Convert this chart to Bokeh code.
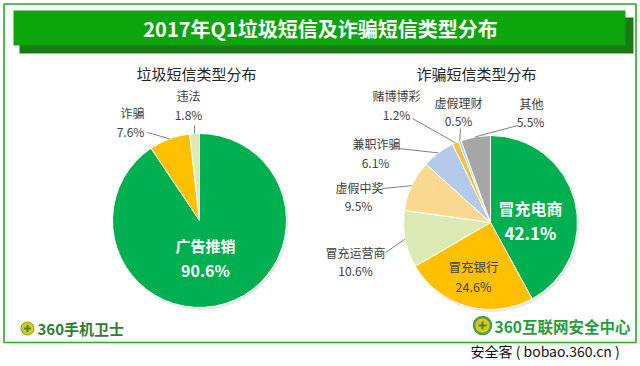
import math
from bokeh.plotting import figure
from bokeh.models import ColumnDataSource, Range1d
from bokeh.core.properties import value
from bokeh.embed import file_html
from bokeh.resources import INLINE

# ---------------- data ----------------
title_text = "2017年Q1垃圾短信及诈骗短信类型分布"
spam_title = "垃圾短信类型分布"
fraud_title = "诈骗短信类型分布"

spam_labels = ["广告推销", "诈骗", "违法"]
spam_values = [90.6, 7.6, 1.8]
spam_colors = ["#00b050", "#ffc000", "#dcebb3"]

fraud_labels = ["冒充电商", "冒充银行", "冒充运营商", "虚假中奖", "兼职诈骗", "赌博博彩", "虚假理财", "其他"]
fraud_values = [42.1, 24.6, 10.6, 9.5, 6.1, 1.2, 0.5, 5.5]
fraud_colors = ["#00b050", "#ffc000", "#dbe9b4", "#f9d990", "#b5c9ea", "#f8c03c", "#8ed6ef", "#a6a6a6"]

left_logo_text = "360手机卫士"
right_logo_text = "360互联网安全中心"
watermark_text = "安全客 ( bobao.360.cn )"

# ---------------- layout (image pixel coords) ----------------
H = 366
def Y(iy):
    return H - iy

CJK = "Noto Sans CJK SC"
W, HH = 640, 366
p = figure(width=W, height=HH, output_backend="svg", toolbar_location=None,
           x_range=Range1d(0, 640), y_range=Range1d(0, 366),
           min_border=0, outline_line_color=None)
p.axis.visible = False
p.grid.visible = False
p.background_fill_color = "white"
p.border_fill_color = "white"

# outer border
p.quad(left=[3.5], right=[635.5], top=[Y(3.5)], bottom=[Y(342)], fill_color=None,
       line_color="#22ad22", line_width=1.6)
# banner shadow + banner
p.quad(left=[19], right=[633], top=[Y(17)], bottom=[Y(53)], fill_color="#1b7a16", line_color=None)
p.quad(left=[13], right=[625], top=[Y(10)], bottom=[Y(45)], fill_color="#0ca60c", line_color=None)
p.text(x=[320], y=[Y(28)], text=[title_text], text_color="white", text_font=value(CJK),
       text_font_size="20px", text_font_style="bold", text_align="center", text_baseline="middle")

# pie titles
p.text(x=[196, 476], y=[Y(73), Y(73)], text=[spam_title, fraud_title], text_color="#262626",
       text_font=value(CJK), text_font_size="15px", text_align="center", text_baseline="middle")


def pie(cx, cy, r, vals, colors):
    tot = sum(vals)
    starts, ends, mids = [], [], []
    c = 0.0
    for v in vals:
        c0, c1 = c / tot, (c + v) / tot
        starts.append(math.pi / 2 - 2 * math.pi * c1)
        ends.append(math.pi / 2 - 2 * math.pi * c0)
        mids.append((c0 + c1) / 2)
        c += v
    # soft shadow
    p.circle(x=[cx + 1.5], y=[Y(cy) - 2], radius=r + 0.5, fill_color="#d9d9d9",
             fill_alpha=0.6, line_color=None)
    src = ColumnDataSource(dict(x=[cx] * len(vals), y=[Y(cy)] * len(vals),
                                s=starts, e=ends, c=colors))
    p.wedge(x="x", y="y", radius=r, start_angle="s", end_angle="e", fill_color="c",
            line_color="white", line_width=1, source=src)
    return mids


def edge_point(cx, cy, r, frac):
    a = 2 * math.pi * frac
    return cx + r * math.sin(a), cy - r * math.cos(a)


# ---- left pie ----
lcx, lcy, lr = 199, 220, 87
lmids = pie(lcx, lcy, lr, spam_values, spam_colors)

p.text(x=[205], y=[Y(245)], text=[spam_labels[0]], text_color="white", text_font=value(CJK),
       text_font_size="15px", text_font_style="bold", text_align="center", text_baseline="middle")
p.text(x=[205], y=[Y(269)], text=[f"{spam_values[0]}%"], text_color="white", text_font=value(CJK),
       text_font_size="16px", text_font_style="bold", text_align="center", text_baseline="middle")

lab_color = "#404040"
left_out = {1: ((132, 112), (130, 131), (147, 132)),
            2: ((188, 95), (188, 114), (194, 125))}
for i, (npos, ppos, lend) in left_out.items():
    p.text(x=[npos[0]], y=[Y(npos[1])], text=[spam_labels[i]], text_color=lab_color,
           text_font=value(CJK), text_font_size="12px", text_align="center", text_baseline="middle")
    p.text(x=[ppos[0]], y=[Y(ppos[1])], text=[f"{spam_values[i]}%"], text_color=lab_color,
           text_font=value(CJK), text_font_size="12px", text_align="center", text_baseline="middle")
    ex, ey = edge_point(lcx, lcy, lr, lmids[i])
    p.line(x=[lend[0], ex], y=[Y(lend[1]), Y(ey)], line_color="#7f7f7f", line_width=1)

# ---- right pie ----
rcx, rcy, rr = 490, 222, 87
rmids = pie(rcx, rcy, rr, fraud_values, fraud_colors)

p.text(x=[530], y=[Y(207)], text=[fraud_labels[0]], text_color="white", text_font=value(CJK),
       text_font_size="16px", text_font_style="bold", text_align="center", text_baseline="middle")
p.text(x=[530], y=[Y(232)], text=[f"{fraud_values[0]}%"], text_color="white", text_font=value(CJK),
       text_font_size="17px", text_font_style="bold", text_align="center", text_baseline="middle")
p.text(x=[473], y=[Y(266)], text=[fraud_labels[1]], text_color=lab_color, text_font=value(CJK),
       text_font_size="12.5px", text_align="center", text_baseline="middle")
p.text(x=[473], y=[Y(286)], text=[f"{fraud_values[1]}%"], text_color=lab_color, text_font=value(CJK),
       text_font_size="12.5px", text_align="center", text_baseline="middle")

right_out = {2: ((355, 252), (355, 270), (385, 252)),
             3: ((359, 187), (358, 205), (382, 188)),
             4: ((376, 143), (375, 162), (398, 148)),
             5: ((396, 95), (396, 114), (412, 118)),
             6: ((458, 102), (458, 120), (460, 128)),
             7: ((531, 103), (530, 121), (517, 125))}
for i, (npos, ppos, lend) in right_out.items():
    p.text(x=[npos[0]], y=[Y(npos[1])], text=[fraud_labels[i]], text_color=lab_color,
           text_font=value(CJK), text_font_size="12px", text_align="center", text_baseline="middle")
    p.text(x=[ppos[0]], y=[Y(ppos[1])], text=[f"{fraud_values[i]}%"], text_color=lab_color,
           text_font=value(CJK), text_font_size="12px", text_align="center", text_baseline="middle")
    ex, ey = edge_point(rcx, rcy, rr, rmids[i])
    p.line(x=[lend[0], ex], y=[Y(lend[1]), Y(ey)], line_color="#7f7f7f", line_width=1)

# ---- logos ----
p.scatter(x=[27], y=[Y(328)], size=13, marker="circle", fill_color="#e6c21c", line_color="#7aa81e", line_width=1)
p.scatter(x=[27], y=[Y(328)], size=7, marker="cross", line_color="#2f8f2f", line_width=2)
p.text(x=[37], y=[Y(328)], text=[left_logo_text], text_color="#2e7d32", text_font=value(CJK),
       text_font_size="15px", text_font_style="bold", text_align="left", text_baseline="middle")

p.scatter(x=[482], y=[Y(325)], size=17, marker="circle", fill_color="#e6c21c", line_color="#3aa84a", line_width=2.5)
p.scatter(x=[482], y=[Y(325)], size=8, marker="cross", line_color="#2f8f2f", line_width=2)
p.text(x=[494], y=[Y(325)], text=[right_logo_text], text_color="#1fa03a", text_font=value(CJK),
       text_font_size="15.5px", text_font_style="bold", text_align="left", text_baseline="middle")

p.text(x=[470], y=[Y(350)], text=[watermark_text], text_color="#111111", text_font=value(CJK),
       text_font_size="14px", text_align="left", text_baseline="middle")

open("out.html", "w").write(file_html(p, INLINE))
